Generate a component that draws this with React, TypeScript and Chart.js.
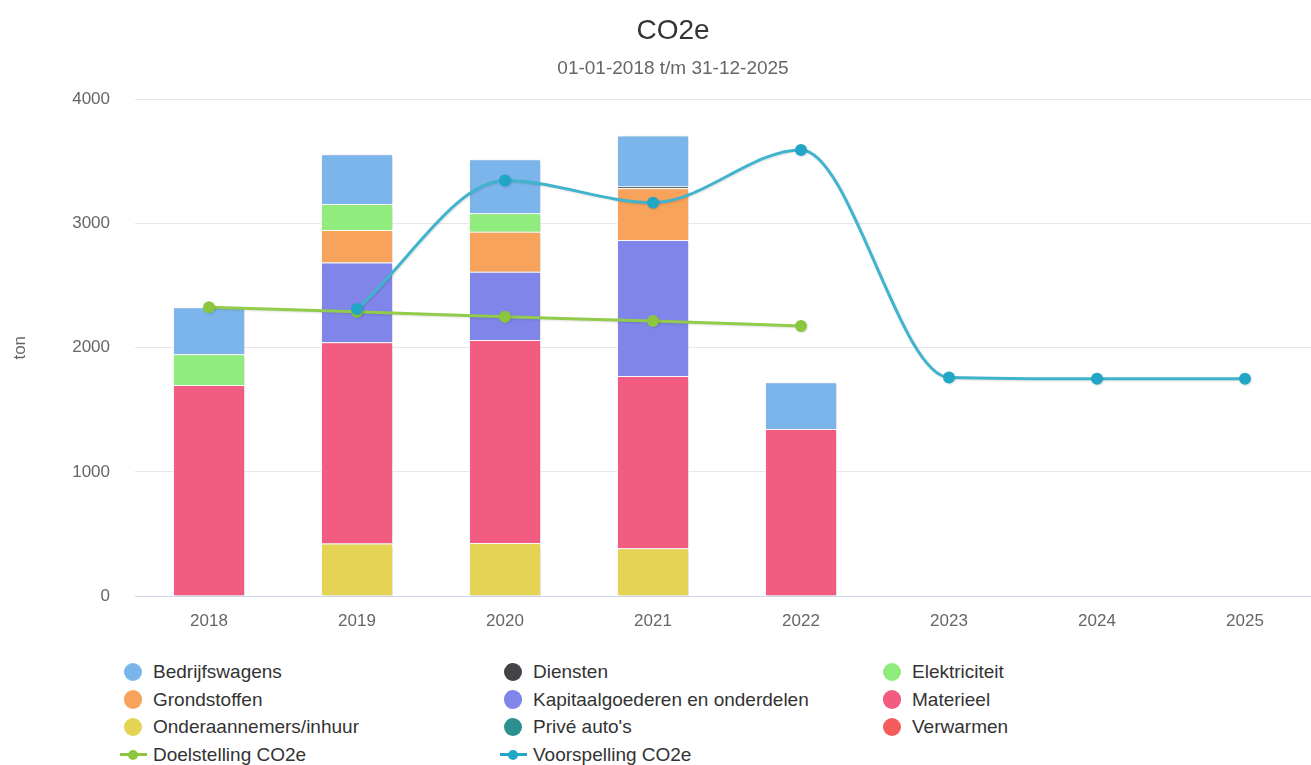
import React, { useEffect, useRef } from 'react';
import { Chart, registerables } from 'chart.js';

Chart.register(...registerables);

const FONT = '"Liberation Sans", Arial, Helvetica, sans-serif';

const categories = ['2018', '2019', '2020', '2021', '2022', '2023', '2024', '2025'];
const bedrijfswagens = [379, 400, 435, 410, 378, null, null, null];
const diensten = [null, null, null, 15, null, null, null, null];
const elektriciteit = [248, 210, 149, null, null, null, null, null];
const grondstoffen = [null, 263, 322, 416, null, null, null, null];
const kapitaalgoederen = [null, 642, 551, 1097, null, null, null, null];
const materieel = [1699, 1622, 1635, 1387, 1345, null, null, null];
const onderaannemers = [null, 422, 427, 385, null, null, null, null];
const priveAutos = [null, null, null, null, null, null, null, null];
const verwarmen = [null, null, null, null, null, null, null, null];
const doelstelling = [2326, 2290, 2250, 2215, 2175, null, null, null];
const voorspelling = [null, 2312, 3347, 3169, 3594, 1761, 1750, 1750];

const yMax = 4000;
const yStep = 1000;

const titleText = 'CO2e';
const subtitleText = '01-01-2018 t/m 31-12-2025';
const yAxisTitle = 'ton';

const barSeries = [
  { name: 'Bedrijfswagens', data: bedrijfswagens, color: '#7cb5ec' },
  { name: 'Diensten', data: diensten, color: '#434348' },
  { name: 'Elektriciteit', data: elektriciteit, color: '#90ed7d' },
  { name: 'Grondstoffen', data: grondstoffen, color: '#f7a35c' },
  { name: 'Kapitaalgoederen en onderdelen', data: kapitaalgoederen, color: '#8085e9' },
  { name: 'Materieel', data: materieel, color: '#f15c80' },
  { name: 'Onderaannemers/inhuur', data: onderaannemers, color: '#e4d354' },
  { name: "Privé auto's", data: priveAutos, color: '#2b908f' },
  { name: 'Verwarmen', data: verwarmen, color: '#f45b5b' },
];

const lineSeries = [
  { name: 'Doelstelling CO2e', data: doelstelling, color: '#8cc63e', lineColor: '#93cb4c' },
  { name: 'Voorspelling CO2e', data: voorspelling, color: '#22a6c6', lineColor: '#40b4cd' },
];

const shadowPlugin = {
  id: 'shadows',
  beforeDatasetDraw(chart: any, args: any) {
    const ctx = chart.ctx;
    const ds = chart.data.datasets[args.index];
    ctx.save();
    if (ds.type === 'line') {
      ctx.shadowColor = 'rgba(0,0,0,0.12)';
      ctx.shadowBlur = 2;
      ctx.shadowOffsetX = 1;
      ctx.shadowOffsetY = 1;
    } else {
      ctx.shadowColor = 'rgba(0,0,0,0.22)';
      ctx.shadowBlur = 3;
      ctx.shadowOffsetX = 1;
      ctx.shadowOffsetY = 1;
    }
  },
  afterDatasetDraw(chart: any) {
    chart.ctx.restore();
  },
};

const CANVAS_W = 1325;
const CANVAS_H = 636;

export default function App() {
  const ref = useRef<HTMLCanvasElement>(null);

  useEffect(() => {
    const bars = [...barSeries].reverse().map((s) => ({
      type: 'bar' as const,
      label: s.name,
      data: s.data,
      backgroundColor: s.color,
      borderColor: '#ffffff',
      borderWidth: 1,
      barPercentage: 0.487,
      categoryPercentage: 1,
      stack: 'bars',
      order: 1,
    }));
    const lines = [...lineSeries].reverse().map((s) => ({
      type: 'line' as const,
      label: s.name,
      data: s.data,
      borderColor: s.lineColor,
      backgroundColor: s.color,
      pointBackgroundColor: s.color,
      pointBorderColor: s.color,
      pointBorderWidth: 0,
      pointRadius: 6,
      borderWidth: 3,
      cubicInterpolationMode: 'monotone' as const,
      fill: false,
      stack: 'line-' + s.name,
      order: 0,
    }));

    const chart = new Chart(ref.current!, {
      type: 'bar',
      data: { labels: categories, datasets: [...lines, ...bars] as any },
      plugins: [shadowPlugin],
      options: {
        animation: false,
        responsive: false,
        maintainAspectRatio: false,
        devicePixelRatio: 1,
        layout: { padding: { top: 99.5, left: 0, right: 0, bottom: 0 } },
        plugins: {
          legend: { display: false },
          tooltip: { enabled: false },
          title: { display: false },
          subtitle: { display: false },
        },
        scales: {
          x: {
            stacked: true,
            offset: true,
            grid: { display: true, drawOnChartArea: false, drawTicks: false, color: 'rgba(0,0,0,0)' },
            border: { display: true, color: '#ccd6eb', width: 1 },
            ticks: { color: '#666666', font: { family: FONT, size: 17 }, padding: 15 },
            afterFit: (s: any) => { s.height = 40; },
          },
          y: {
            stacked: true,
            min: 0,
            max: yMax,
            ticks: {
              stepSize: yStep,
              color: '#666666',
              font: { family: FONT, size: 17 },
              padding: 25,
              callback: (v: any) => String(v),
            },
            grid: { color: '#e6e6e6', lineWidth: 1, drawTicks: false },
            border: { display: false },
            title: {
              display: true,
              text: yAxisTitle,
              color: '#666666',
              font: { family: FONT, size: 17 },
              padding: { top: 10, bottom: 0 },
            },
            afterFit: (s: any) => { s.width = 135; },
          },
        },
      },
    });
    return () => chart.destroy();
  }, []);

  const colX = [133, 513, 892];
  const rowY = [672, 699.5, 727, 754.5];
  const legendItems = [
    ...barSeries.map((s) => ({ name: s.name, color: s.color, kind: 'bar' })),
    ...lineSeries.map((s) => ({ name: s.name, color: s.color, kind: 'line' })),
  ];

  return (
    <div style={{ position: 'fixed', left: 0, top: 0, width: 1311, height: 765, overflow: 'hidden', background: '#ffffff', fontFamily: FONT }}>
      <canvas
        ref={ref}
        width={CANVAS_W}
        height={CANVAS_H}
        style={{ position: 'absolute', left: 0, top: 0, width: CANVAS_W, height: CANVAS_H }}
      />
      <div style={{ position: 'absolute', left: 0, top: 12.8, width: 1346, textAlign: 'center', fontSize: 28, lineHeight: '34px', color: '#333333', whiteSpace: 'nowrap' }}>
        {titleText}
      </div>
      <div style={{ position: 'absolute', left: 0, top: 55.7, width: 1346, textAlign: 'center', fontSize: 19, lineHeight: '23px', color: '#666666', whiteSpace: 'nowrap' }}>
        {subtitleText}
      </div>
      {legendItems.map((it, i) => {
        const cx = colX[i % 3];
        const cy = rowY[Math.floor(i / 3)];
        return (
          <div key={it.name} style={{ position: 'absolute', left: cx - 16, top: cy - 12, height: 24, display: 'flex', alignItems: 'center' }}>
            <div style={{ position: 'relative', width: 32, height: 24 }}>
              {it.kind === 'line' && (
                <div style={{ position: 'absolute', left: 2.5, top: 10.5, width: 27, height: 3, background: it.color }} />
              )}
              <div
                style={{
                  position: 'absolute',
                  left: it.kind === 'line' ? 11 : 6.8,
                  top: it.kind === 'line' ? 7 : 2.8,
                  width: it.kind === 'line' ? 10 : 18.4,
                  height: it.kind === 'line' ? 10 : 18.4,
                  borderRadius: '50%',
                  background: it.color,
                }}
              />
            </div>
            <span style={{ marginLeft: 4, fontSize: 19, color: '#333333', lineHeight: '24px', whiteSpace: 'nowrap' }}>{it.name}</span>
          </div>
        );
      })}
    </div>
  );
}
